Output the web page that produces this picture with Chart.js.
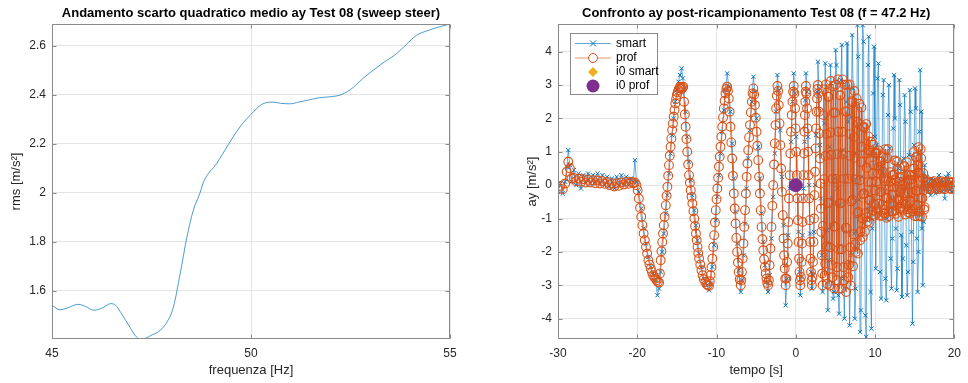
<!DOCTYPE html>
<html>
<head>
<meta charset="utf-8">
<script src="https://cdn.jsdelivr.net/npm/chart.js@4.4.1/dist/chart.umd.min.js"></script>
<style>
    html, body { margin: 0; padding: 0; background: #fff; }
    #wrap { position: relative; width: 968px; height: 383px; overflow: hidden; }
    canvas { position: absolute; top: 0; }
    #rmsChart { left: 0; }
    #ayChart { left: 484px; }
</style>
</head>
<body>
<div id="wrap">
    <canvas id="rmsChart" width="484" height="383"></canvas>
    <canvas id="ayChart" width="484" height="383"></canvas>
</div>
<script>
// --- left plot: rms vs sweep frequency ---
const freq = [45.0, 45.2, 45.4, 45.65, 45.85, 46.04, 46.25, 46.48, 46.6, 46.75, 46.96, 47.1, 47.21, 47.35,
    47.46, 47.72, 47.89, 48.05, 48.22, 48.39, 48.55, 48.72, 48.81, 49.14, 49.35, 49.56, 49.8, 50.0, 50.15,
    50.31, 50.56, 50.75, 50.98, 51.2, 51.4, 51.73, 52.0, 52.28, 52.57, 52.8, 53.07, 53.36, 53.66, 53.9,
    54.16, 54.4, 54.58, 55.0];
const rms = [1.540, 1.522, 1.530, 1.544, 1.535, 1.520, 1.528, 1.547, 1.540, 1.505, 1.450, 1.415, 1.402, 1.405,
    1.415, 1.438, 1.472, 1.533, 1.669, 1.819, 1.928, 2.000, 2.045, 2.120, 2.175, 2.230, 2.285, 2.320, 2.345,
    2.364, 2.370, 2.365, 2.363, 2.370, 2.377, 2.388, 2.392, 2.401, 2.430, 2.465, 2.500, 2.535, 2.568, 2.605,
    2.643, 2.660, 2.670, 2.689];
const freqTicks = [45, 50, 55];
const rmsTicks = [1.6, 1.8, 2.0, 2.2, 2.4, 2.6];

// --- right plot: "prof" samples (orange circles) ---
const tProf = [
    -30, -29.7, -29.4, -29.1, -28.9, -28.7, -28.5, -28.3, -28, -27.7, -27.4, -27.1, -26.8, -26.5, -26.2, -25.9,
    -25.6, -25.3, -25, -24.7, -24.4, -24.1, -23.8, -23.5, -23.2, -22.9, -22.6, -22.3, -22, -21.7, -21.4, -21.1,
    -20.8, -20.5, -20.3, -20.1,
    -19.95, -19.8, -19.65, -19.5, -19.35, -19.2, -19.05, -18.9, -18.75, -18.6, -18.45, -18.3, -18.15, -18,
    -17.85, -17.7, -17.55, -17.4, -17.25,
    -17.15, -17.05, -16.95, -16.85, -16.75, -16.65, -16.55, -16.4, -16.3, -16.2, -16.1, -16, -15.9, -15.8,
    -15.7, -15.6, -15.5, -15.4, -15.3, -15.2, -15.1, -15, -14.9, -14.8, -14.7, -14.6, -14.5, -14.4, -14.3, -14.2,
    -14.1, -14, -13.9, -13.8, -13.7, -13.58, -13.47, -13.36, -13.25, -13.15, -13.05, -12.92, -12.8, -12.7,
    -12.6, -12.5, -12.4, -12.3, -12.2, -12.05, -11.9, -11.75, -11.6, -11.42, -11.25, -11.1, -10.95,
    -10.85, -10.75, -10.64, -10.53, -10.42, -10.3, -10.2, -10.1, -10, -9.9, -9.8, -9.7, -9.6, -9.5, -9.39,
    -9.28, -9.18, -9.08, -8.98, -8.87, -8.76, -8.66,
    -8.56, -8.45, -8.35, -8.24, -8.14, -8.03, -7.93, -7.82, -7.71, -7.6, -7.5, -7.4, -7.3, -7.2, -7.08, -6.95,
    -6.88, -6.8, -6.7, -6.6, -6.5, -6.4, -6.3, -6.2, -6.1, -6, -5.89, -5.78, -5.67, -5.55, -5.45, -5.35,
    -5.25, -5.15, -5.05, -4.95, -4.85, -4.74, -4.63, -4.53, -4.42, -4.32, -4.21, -4.1, -4, -3.9, -3.8, -3.7,
    -3.6, -3.5,
    -3.4, -3.3, -3.2, -3.07, -2.96, -2.85, -2.75, -2.65, -2.56, -2.48, -2.4, -2.32,
    -2.23, -2.15, -2.05, -1.95, -1.85, -1.75, -1.65, -1.55, -1.47, -1.4, -1.33, -1.28,
    -1.19, -1.1, -1.02, -0.95, -0.86, -0.77, -0.69, -0.6, -0.51, -0.42, -0.34, -0.26,
    -0.18, -0.1, -0.03, 0.05, 0.12, 0.2, 0.27, 0.35, 0.41, 0.47, 0.52, 0.57,
    0.64, 0.72, 0.78, 0.85, 0.91, 0.98, 1.04, 1.1, 1.15, 1.2, 1.24, 1.28,
    1.35, 1.42, 1.48, 1.55, 1.61, 1.68, 1.74, 1.8, 1.86, 1.92, 1.98, 2.03,
    2.1, 2.17, 2.23, 2.3, 2.36, 2.43, 2.5, 2.56, 2.62, 2.68, 2.74, 2.79,
    2.85, 2.92, 2.98, 3.05, 3.11, 3.17, 3.22, 3.28, 3.33, 3.38,
    3.435, 3.49, 3.545, 3.6, 3.655, 3.71, 3.765, 3.82, 3.875, 3.93, 3.985, 4.04, 4.095, 4.15, 4.205, 4.26,
    4.315, 4.37, 4.425, 4.48, 4.535, 4.59, 4.645, 4.7, 4.755, 4.81, 4.865, 4.92, 4.975, 5.03, 5.085, 5.14,
    5.195, 5.25, 5.305, 5.36, 5.415, 5.47, 5.525, 5.58, 5.635, 5.69, 5.745, 5.8, 5.855, 5.91, 5.965, 6.02,
    6.075, 6.13, 6.185, 6.24, 6.295, 6.35, 6.405, 6.46, 6.515, 6.57, 6.625, 6.68, 6.735, 6.79, 6.845, 6.9,
    6.955, 7.01, 7.065, 7.12, 7.175, 7.23, 7.285, 7.34, 7.395, 7.45, 7.505, 7.56, 7.615, 7.67, 7.725, 7.78,
    7.835, 7.89, 7.945, 8, 8.055, 8.11, 8.165, 8.22, 8.275, 8.33, 8.385, 8.44, 8.495, 8.55, 8.605, 8.66,
    8.715, 8.77, 8.825, 8.88, 8.935, 8.99, 9.045, 9.1, 9.155, 9.21, 9.265, 9.32, 9.375, 9.43, 9.485, 9.54,
    9.595, 9.65, 9.705, 9.76, 9.815, 9.87, 9.925, 9.98, 10.035, 10.09,
    10.145, 10.2, 10.255, 10.31, 10.365, 10.42, 10.475, 10.53, 10.585, 10.64,
    10.695, 10.75, 10.805, 10.86, 10.915, 10.97, 11.025, 11.08, 11.135, 11.19,
    11.245, 11.3, 11.355, 11.41, 11.465, 11.52, 11.575, 11.63, 11.685, 11.74,
    11.795, 11.85, 11.905, 11.96, 12.015, 12.07, 12.125, 12.18, 12.235, 12.29,
    12.345, 12.4, 12.455, 12.51, 12.565, 12.62, 12.675, 12.73, 12.785, 12.84,
    12.895, 12.95, 13.005, 13.06, 13.115, 13.17, 13.225, 13.28, 13.335, 13.39,
    13.445, 13.5, 13.555, 13.61, 13.665, 13.72, 13.775, 13.83, 13.885, 13.94,
    13.995, 14.05, 14.105, 14.16, 14.215, 14.27, 14.325, 14.38, 14.435, 14.49,
    14.545, 14.6, 14.655, 14.71, 14.765, 14.82, 14.875, 14.93, 14.985, 15.04,
    15.095, 15.15, 15.205, 15.26, 15.315, 15.37, 15.425, 15.48, 15.535, 15.59,
    15.645, 15.7, 15.755, 15.81, 15.865, 15.92, 15.975, 16.03, 16.085, 16.14,
    16.195, 16.25, 16.305, 16.36,
    16.55, 16.7, 16.85, 17, 17.15, 17.3, 17.45, 17.6, 17.75, 17.9, 18.05, 18.2, 18.35, 18.5, 18.65, 18.8,
    18.95, 19.1, 19.25, 19.4, 19.55, 19.7, 19.85, 20
];
const ayProf = [
    -0.10, -0.02, -0.12, 0.05, 0.40, 0.70, 0.50, 0.20, 0.22, 0.12, 0.20, 0.10, 0.18, 0.08, 0.16, 0.08,
    0.15, 0.06, 0.14, 0.05, 0.12, 0.04, 0.10, 0.00, 0.06, -0.04, 0.05, -0.02, 0.08, 0.02, 0.10, 0.04,
    0.10, 0.06, 0.08, 0.00,
    -0.15, -0.40, -0.68, -0.95, -1.20, -1.45, -1.65, -1.85, -2.05, -2.25, -2.38, -2.50, -2.60, -2.70,
    -2.75, -2.80, -2.85, -2.90, -2.92,
    -2.65, -2.25, -1.98, -1.70, -1.45, -1.20, -0.95, -0.60, -0.32, -0.05, 0.28, 0.60, 0.88, 1.15,
    1.40, 1.65, 1.85, 2.05, 2.25, 2.45, 2.58, 2.70, 2.78, 2.85, 2.90, 2.95, 2.92, 2.88, 2.93, 2.95,
    2.50, 2.12, 1.75, 1.38, 1.00, 0.62, 0.30, 0.07, -0.15, -0.35, -0.55, -0.78, -1.00, -1.22,
    -1.45, -1.65, -1.85, -2.03, -2.20, -2.38, -2.55, -2.70, -2.82, -2.90, -2.97, -3.00, -3.02,
    -2.88, -2.70, -2.46, -2.20, -1.85, -1.50, -1.12, -0.75, -0.42, -0.10, 0.22, 0.55, 0.85, 1.15, 1.45,
    1.75, 2.03, 2.30, 2.53, 2.75, 2.88, 2.95,
    2.82, 2.60, 2.20, 1.75, 1.28, 0.80, 0.28, -0.25, -0.70, -1.15, -1.58, -2.00, -2.32, -2.60, -2.82, -3.00,
    -2.85, -2.60, -2.20, -1.75, -1.25, -0.75, -0.25, 0.25, 0.65, 1.05, 1.43, 1.80, 2.18, 2.50, 2.75, 2.90,
    2.72, 2.40, 2.02, 1.60, 1.18, 0.75, 0.25, -0.25, -0.75, -1.25, -1.62, -1.95, -2.22, -2.45, -2.65, -2.80,
    -2.93, -3.00,
    -2.85, -2.40, -1.90, -1.25, -0.62, 0.00, 0.62, 1.25, 1.80, 2.30, 2.68, 2.97,
    2.82, 2.40, 1.85, 1.20, 0.50, -0.20, -0.90, -1.60, -2.10, -2.50, -2.80, -3.00,
    -2.80, -2.30, -1.75, -1.10, -0.40, 0.30, 0.95, 1.60, 2.10, 2.50, 2.80, 2.97,
    2.75, 2.30, 1.70, 1.00, 0.30, -0.40, -1.05, -1.70, -2.20, -2.60, -2.85, -3.00,
    -2.75, -2.30, -1.75, -1.10, -0.40, 0.30, 0.95, 1.60, 2.10, 2.50, 2.80, 2.97,
    2.75, 2.30, 1.70, 1.00, 0.30, -0.40, -1.05, -1.70, -2.20, -2.60, -2.85, -3.00,
    -2.75, -2.30, -1.70, -1.00, -0.30, 0.40, 1.10, 1.70, 2.20, 2.60, 2.88, 3.00,
    2.75, 2.20, 1.55, 0.80, 0.05, -0.70, -1.40, -2.10, -2.65, -3.00,
    -1.22, 2.10, 2.87, 0.18, -2.71, -2.35, 0.88, 3.02, 1.53, -1.83, -2.96, -0.53, 2.65, 2.65, -0.53, -3.01,
    -1.86, 1.58, 3.12, 0.91, -2.39, -2.76, 0.19, 2.96, 2.17, -1.24, -3.10, -1.24, 2.17, 3.01, 0.19, -2.85,
    -2.46, 0.93, 3.17, 1.60, -1.92, -3.10, -0.54, 2.69, 2.69, -0.54, -3.10, -1.92, 1.60, 3.17, 0.93, -2.46,
    -2.85, 0.19, 3.01, 2.21, -1.28, -3.20, -1.28, 2.21, 3.01, 0.19, -2.76, -2.39, 0.88, 3.02, 1.53, -1.86,
    -3.01, -0.49, 2.52, 2.48, -0.44, -2.43, -1.47, 1.44, 2.82, 0.82, -1.77, -2.00, 0.17, 2.60, 1.90, -0.84,
    -2.05, -0.80, 1.83, 2.44, 0.15, -1.65, -1.39, 0.70, 2.33, 1.15, -0.99, -1.55, -0.26, 1.76, 1.72, -0.25,
    -1.39, -0.84, 0.95, 1.83, 0.52, -0.96, -1.09, 0.10, 1.46, 1.04, -0.46, -1.12, -0.44, 0.97, 1.30, 0.08,
    -0.89, -0.77, 0.36, 1.21, 0.60, -0.57, -0.92, -0.16, 0.97, 0.94,
    0.99, 0.11, -0.84, -0.72, 0.34, 1.04, 0.55, -0.55, -0.92, -0.20,
    0.71, 0.71, -0.20, -0.92, -0.59, 0.40, 0.84, 0.21, -0.74, -0.85,
    0.12, 1.08, 0.81, -0.39, -0.98, -0.39, 0.81, 1.08, 0.12, -0.93,
    -0.80, -0.03, 0.39, 0.10, -0.56, -0.78, -0.30, 0.30, 0.30, -0.30,
    -0.78, -0.61, 0.33, 0.74, 0.15, -0.75, -0.86, -0.05, 0.70, 0.49,
    -0.44, -0.95, -0.45, 0.10, 0.22, -0.22, -0.70, -0.64, -0.11, 0.25,
    0.00, -0.55, -0.74, -0.24, 0.57, 0.57, -0.24, -0.88, -0.58, 0.30,
    0.69, 0.13, -0.72, -0.81, -0.21, 0.31, 0.16, -0.49, -0.85, -0.49,
    0.16, 0.31, -0.21, -0.78, -0.71, 0.29, 0.99, 0.50, -0.60, -0.93,
    -0.17, 0.84, 0.84, -0.17, -0.93, -0.60, 0.60, 1.14, 0.37, -0.80,
    -0.93, 0.12, 1.08, 0.81, -0.39, -0.95, -0.39, 0.21, 0.36, -0.16,
    -0.73, -0.66, -0.03, 0.15,
    0.10, -0.10, 0.06, -0.12, 0.10, -0.08, 0.12, -0.10, 0.05, -0.12, 0.10, -0.06, 0.12, -0.10, 0.08, -0.12,
    0.10, -0.05, 0.12, -0.10, 0.08, -0.12, 0.10, -0.04
];

// --- right plot: "smart" samples (blue crosses) ---
const tSmart = [
    -30, -29.7, -29.4, -29.1, -28.9, -28.7, -28.5, -28.3, -28, -27.7, -27.4, -27.1, -26.8, -26.5, -26.2, -25.9,
    -25.6, -25.3, -25, -24.7, -24.4, -24.1, -23.8, -23.5, -23.2, -22.9, -22.6, -22.3, -22, -21.7, -21.4, -21.1,
    -20.8, -20.5, -20.3, -20.1,
    -19.8, -19.5, -19.2, -18.9, -18.6, -18.3, -18, -17.7, -17.45, -17.25,
    -17.05, -16.85, -16.65, -16.4, -16.2, -16, -15.8, -15.6, -15.4, -15.2, -15, -14.8, -14.6, -14.4, -14.25,
    -14.1, -13.9, -13.7, -13.47, -13.25, -13.05, -12.8, -12.6, -12.4, -12.2, -11.9, -11.6, -11.25, -10.95,
    -10.75, -10.53, -10.3, -10.1, -9.9, -9.7, -9.5, -9.28, -9.08, -8.87, -8.66,
    -8.45, -8.24, -8.03, -7.82, -7.6, -7.4, -7.2, -6.95,
    -6.8, -6.6, -6.4, -6.2, -6, -5.78, -5.55, -5.35,
    -5.15, -4.95, -4.74, -4.53, -4.32, -4.1, -3.9, -3.7, -3.5,
    -3.3, -3.07, -2.85, -2.65, -2.48, -2.32,
    -2.15, -1.95, -1.75, -1.55, -1.4, -1.28,
    -1.1, -0.95, -0.77, -0.6, -0.42, -0.26,
    -0.1, 0.05, 0.2, 0.35, 0.47, 0.57,
    0.72, 0.85, 0.98, 1.1, 1.2, 1.28,
    1.42, 1.55, 1.68, 1.8, 1.92, 2.03,
    2.17, 2.3, 2.43, 2.56, 2.68, 2.79,
    2.92, 3.05, 3.17, 3.28, 3.38,
    3.49, 3.6, 3.71, 3.82, 3.93, 4.04, 4.15, 4.26, 4.37, 4.48, 4.59, 4.7, 4.81, 4.92, 5.03, 5.14, 5.25, 5.36,
    5.47, 5.58, 5.69, 5.8, 5.91, 6.02, 6.13, 6.24, 6.35, 6.46, 6.57, 6.68, 6.79, 6.9, 7.01, 7.12, 7.23, 7.34,
    7.45, 7.56, 7.67, 7.78, 7.89, 8, 8.11, 8.22, 8.33, 8.44, 8.55, 8.66, 8.77, 8.88, 8.99, 9.1, 9.21, 9.32,
    9.43, 9.54, 9.65, 9.76, 9.87, 9.98, 10.09,
    10.2, 10.31, 10.42, 10.53, 10.64, 10.75, 10.86, 10.97, 11.08, 11.19, 11.3, 11.41, 11.52, 11.63, 11.74,
    11.85, 11.96, 12.07, 12.18, 12.29, 12.4, 12.51, 12.62, 12.73, 12.84, 12.95, 13.06, 13.17, 13.28, 13.39,
    13.5, 13.61, 13.72, 13.83, 13.94, 14.05, 14.16, 14.27, 14.38, 14.49, 14.6, 14.71, 14.82, 14.93, 15.04,
    15.15, 15.26, 15.37, 15.48, 15.59, 15.7, 15.81, 15.92, 16.03, 16.14, 16.25, 16.4,
    16.55, 16.7, 16.85, 17, 17.15, 17.3, 17.45, 17.6, 17.75, 17.9, 18.05, 18.2, 18.35, 18.5, 18.65, 18.8,
    18.95, 19.1, 19.25, 19.4, 19.55, 19.7, 19.85, 20
];
const aySmart = [
    -0.20, 0.05, -0.25, 0.10, 0.55, 1.05, 0.60, 0.10, 0.45, 0.00, 0.35, -0.10, 0.30, 0.05, 0.35, 0.05,
    0.30, 0.10, 0.35, 0.05, 0.30, 0.00, 0.25, -0.05, 0.20, -0.10, 0.25, 0.00, 0.30, 0.05, 0.25, 0.05,
    0.20, 0.10, 0.75, 0.10,
    -0.20, -0.70, -1.30, -1.75, -2.15, -2.45, -2.65, -2.85, -3.30, -3.10,
    -2.60, -2.00, -1.45, -0.85, -0.30, 0.35, 0.95, 1.50, 2.00, 2.50, 2.85, 3.10, 3.30, 3.50, 3.20,
    2.85, 2.20, 1.45, 0.70, 0.15, -0.30, -0.75, -1.20, -1.65, -2.05, -2.45, -2.80, -3.00, -3.15,
    -2.95, -2.45, -1.80, -1.05, -0.35, 0.30, 0.95, 1.60, 2.25, 2.85, 3.35,
    2.95, 2.20, 1.25, 0.20, -0.80, -1.75, -2.55, -3.20,
    -2.85, -2.10, -1.15, -0.10, 0.80, 1.65, 2.50, 3.25,
    2.80, 2.00, 1.15, 0.20, -0.85, -1.70, -2.40, -2.90, -3.20,
    -2.70, -1.60, -0.35, 0.95, 2.20, 3.30,
    2.85, 1.65, 0.25, -1.20, -2.40, -3.60,
    -2.80, -1.50, -0.10, 1.30, 2.50, 3.35,
    2.75, 1.45, 0.05, -1.40, -2.60, -3.30,
    -2.75, -1.50, -0.10, 1.30, 2.55, 3.35,
    2.80, 1.45, 0.00, -1.45, -2.60, -3.10,
    -2.70, -1.40, 0.00, 1.50, 2.80, 3.70,
    2.75, 1.20, -0.40, -2.10, -3.20,
    -1.55, 1.85, 3.65, 2.00, -1.35, -3.75, -2.25, 1.15, 3.60, 3.05, -0.40, -3.40, -3.20, 0.20, 4.05, 3.60,
    -0.10, -3.30, -3.85, -0.58, 3.15, 4.20, 1.05, -2.80, -4.00, -1.40, 2.50, 4.25, 1.90, -2.30, -4.20, -2.10,
    2.05, 4.50, 2.90, -1.45, -4.00, -3.10, 0.95, 4.80, 3.85, -0.44, -4.40, -3.75, 0.25, 4.80, 4.30, -0.23,
    -3.90, -4.55, -0.70, 3.60, 4.45, 0.90, -3.20, -4.30, -1.30, 2.75, 4.15, 1.45, -2.50,
    1.20, 3.20, 3.65, 0.50, -2.60, -3.40, 0.40, 2.70, 3.15, -0.20, -2.80, -3.45, -1.00, 2.10, 3.00,
    1.10, -2.20, -3.10, -1.60, 1.70, 3.30, 2.00, -1.30, -3.15, -2.50, 0.50, 3.15, 2.40, -1.50, -3.35,
    -2.20, 0.80, 2.70, 1.90, -1.80, -3.30, -2.60, 0.90, 2.85, 2.20, -1.40, -4.15, -2.30, 1.20, 2.90,
    2.30, -1.60, -3.20, -2.00, 1.60, 3.45, 2.20, -1.30, -3.00, -1.10, 0.60, -0.10,
    0.25, -0.20, 0.10, -0.30, 0.20, -0.10, 0.15, -0.25, 0.10, -0.20, 0.30, -0.10, 0.15, -0.20, 0.10, -0.40,
    0.25, -0.10, 0.35, -0.15, 0.10, -0.20, 0.15, -0.05
];
const i0Tempo = [0];
const i0Smart = [0];
const i0Prof = [0];
const tempoTicks = [-30, -20, -10, 0, 10, 20];
const ayTicks = [-4, -3, -2, -1, 0, 1, 2, 3, 4];

const FONT = '"Liberation Sans", Arial, Helvetica, sans-serif';
Chart.defaults.font.family = FONT;
Chart.defaults.font.size = 12;
Chart.defaults.color = '#262626';

const BLUE = '#0072BD';
const ORANGE = '#D95319';
const YELLOW = '#EDB120';
const PURPLE = '#7E2F8E';
const GRID = '#e4e4e4';

// Box + inward ticks on all four sides, and the bold title over the axes.
const matlabAxes = {
    id: 'matlabAxes',
    afterDraw(chart, args, opts) {
        const { ctx, chartArea: a } = chart;
        const x = chart.scales.x, y = chart.scales.y;
        ctx.save();
        ctx.strokeStyle = '#8a8a8a';
        ctx.lineWidth = 1;
        const L = Math.round(a.left) + 0.5, R = Math.round(a.right) - 0.5;
        const T = Math.round(a.top) + 0.5, B = Math.round(a.bottom) - 0.5;
        ctx.strokeRect(L, T, R - L, B - T);
        ctx.beginPath();
        x.ticks.forEach(t => {
            const p = Math.round(x.getPixelForValue(t.value)) + 0.5;
            ctx.moveTo(p, B); ctx.lineTo(p, B - 4);
            ctx.moveTo(p, T); ctx.lineTo(p, T + 4);
        });
        y.ticks.forEach(t => {
            const p = Math.round(y.getPixelForValue(t.value)) + 0.5;
            ctx.moveTo(L, p); ctx.lineTo(L + 4, p);
            ctx.moveTo(R, p); ctx.lineTo(R - 4, p);
        });
        ctx.stroke();
        ctx.fillStyle = '#000';
        ctx.font = 'bold 13px ' + FONT;
        ctx.textAlign = 'center';
        ctx.textBaseline = 'middle';
        ctx.fillText(opts.title, (a.left + a.right) / 2, 13);
        ctx.restore();
    }
};

// Legend box drawn inside the axes, top-left, like MATLAB's.
const boxLegend = {
    id: 'boxLegend',
    afterDraw(chart, args, opts) {
        if (!opts.items) return;
        const ctx = chart.ctx;
        const { x0, y0, w, h } = opts;
        ctx.save();
        ctx.fillStyle = '#fff';
        ctx.fillRect(x0, y0, w, h);
        ctx.strokeStyle = '#8a8a8a';
        ctx.lineWidth = 1;
        ctx.strokeRect(x0 + 0.5, y0 + 0.5, w - 1, h - 1);
        ctx.font = '12px ' + FONT;
        ctx.textBaseline = 'middle';
        ctx.textAlign = 'left';
        opts.items.forEach((it, i) => {
            const cy = opts.rows[i];
            const mx = x0 + 23;
            ctx.lineWidth = 1;
            ctx.strokeStyle = it.color;
            ctx.fillStyle = it.color;
            if (it.line) {
                ctx.globalAlpha = 0.6;
                ctx.beginPath();
                ctx.moveTo(x0 + 5, cy); ctx.lineTo(x0 + 41, cy);
                ctx.stroke();
                ctx.globalAlpha = 1;
            }
            if (it.marker === 'x') {
                ctx.beginPath();
                ctx.moveTo(mx - 3, cy - 3); ctx.lineTo(mx + 3, cy + 3);
                ctx.moveTo(mx - 3, cy + 3); ctx.lineTo(mx + 3, cy - 3);
                ctx.stroke();
            } else if (it.marker === 'o') {
                ctx.fillStyle = '#fff';
                ctx.beginPath(); ctx.arc(mx, cy, 4.5, 0, Math.PI * 2); ctx.fill(); ctx.stroke();
            } else if (it.marker === 'd') {
                ctx.beginPath();
                ctx.moveTo(mx, cy - 5); ctx.lineTo(mx + 5, cy); ctx.lineTo(mx, cy + 5); ctx.lineTo(mx - 5, cy);
                ctx.closePath(); ctx.fill();
            } else if (it.marker === 'dot') {
                ctx.beginPath(); ctx.arc(mx, cy, 6.5, 0, Math.PI * 2); ctx.fill();
            }
            ctx.fillStyle = '#000';
            ctx.fillText(it.label, x0 + 46, cy);
        });
        ctx.restore();
    }
};

function fixedTicks(values) {
    return scale => { scale.ticks = values.map(v => ({ value: v })); };
}

function baseScales(o) {
    return {
        x: {
            type: 'linear', min: o.xMin, max: o.xMax,
            afterBuildTicks: fixedTicks(o.xTicks),
            afterFit: s => { s.height = 44; },
            grid: { color: GRID, drawTicks: false },
            border: { display: false },
            ticks: { padding: 7, font: { size: 12 }, callback: v => String(v) },
            title: { display: true, text: o.xTitle, font: { size: 13 }, padding: { top: 0, bottom: 5 } }
        },
        y: {
            type: 'linear', min: o.yMin, max: o.yMax,
            afterBuildTicks: fixedTicks(o.yTicks),
            afterFit: s => { s.width = o.yWidth; },
            grid: { color: GRID, drawTicks: false },
            border: { display: false },
            ticks: { padding: 6, font: { size: 12 }, callback: v => String(+v.toFixed(1)) },
            title: { display: true, text: o.yTitle, font: { size: 13 }, padding: { top: o.yTitlePad, bottom: 0 } }
        }
    };
}

new Chart(document.getElementById('rmsChart'), {
    type: 'line',
    data: {
        datasets: [{
            data: freq.map((f, i) => ({ x: f, y: rms[i] })),
            borderColor: 'rgba(0,114,189,0.7)',
            borderWidth: 1,
            pointRadius: 0,
            cubicInterpolationMode: 'monotone',
            clip: 0
        }]
    },
    options: {
        responsive: false,
        animation: false,
        layout: { padding: { top: 24, right: 34, left: 0, bottom: 0 } },
        plugins: {
            legend: { display: false },
            tooltip: { enabled: false },
            matlabAxes: { title: 'Andamento scarto quadratico medio ay Test 08 (sweep steer)' }
        },
        scales: baseScales({
            xMin: 45, xMax: 55, xTicks: freqTicks, xTitle: 'frequenza [Hz]',
            yMin: 1.4025, yMax: 2.689, yTicks: rmsTicks, yTitle: 'rms [m/s²]',
            yWidth: 52, yTitlePad: 9
        })
    },
    plugins: [matlabAxes]
});

new Chart(document.getElementById('ayChart'), {
    type: 'line',
    data: {
        datasets: [
            {
                label: 'i0 prof',
                data: i0Tempo.map((t, i) => ({ x: t, y: i0Prof[i] })),
                showLine: false, pointStyle: 'circle', pointRadius: 6.5,
                pointBackgroundColor: PURPLE, pointBorderColor: PURPLE, order: 0
            },
            {
                label: 'i0 smart',
                data: i0Tempo.map((t, i) => ({ x: t, y: i0Smart[i] })),
                showLine: false, pointStyle: 'rectRot', pointRadius: 4.5,
                pointBackgroundColor: YELLOW, pointBorderColor: YELLOW, order: 1
            },
            {
                label: 'prof',
                data: tProf.map((t, i) => ({ x: t, y: ayProf[i] })),
                borderColor: ORANGE, borderWidth: 0.8,
                pointStyle: 'circle', pointRadius: 4.4, pointBorderWidth: 1.1,
                pointBorderColor: ORANGE, pointBackgroundColor: 'rgba(0,0,0,0)',
                tension: 0, clip: 0, order: 2
            },
            {
                label: 'smart',
                data: tSmart.map((t, i) => ({ x: t, y: aySmart[i] })),
                borderColor: 'rgba(0,114,189,0.85)', borderWidth: 0.7,
                pointStyle: 'crossRot', pointRadius: 3, pointBorderWidth: 1,
                pointBorderColor: BLUE, pointBackgroundColor: BLUE,
                tension: 0, clip: 0, order: 3
            }
        ]
    },
    options: {
        responsive: false,
        animation: false,
        layout: { padding: { top: 24, right: 11, left: 0, bottom: 0 } },
        plugins: {
            legend: { display: false },
            tooltip: { enabled: false },
            matlabAxes: { title: 'Confronto ay post-ricampionamento Test 08 (f = 47.2 Hz)' },
            boxLegend: {
                x0: 86, y0: 33, w: 88, h: 62,
                rows: [43.5, 58, 72, 86],
                items: [
                    { label: 'smart', color: BLUE, line: true, marker: 'x' },
                    { label: 'prof', color: ORANGE, line: true, marker: 'o' },
                    { label: 'i0 smart', color: YELLOW, line: false, marker: 'd' },
                    { label: 'i0 prof', color: PURPLE, line: false, marker: 'dot' }
                ]
            }
        },
        scales: baseScales({
            xMin: -30, xMax: 20, xTicks: tempoTicks, xTitle: 'tempo [s]',
            yMin: -4.61, yMax: 4.83, yTicks: ayTicks, yTitle: 'ay [m/s²]',
            yWidth: 74, yTitlePad: 41
        })
    },
    plugins: [matlabAxes, boxLegend]
});
</script>
</body>
</html>
